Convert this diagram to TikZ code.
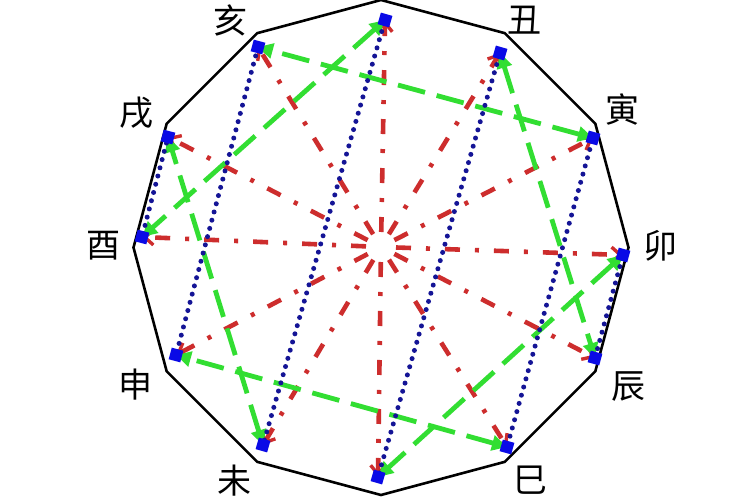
\documentclass[tikz,border=0pt]{standalone}
\usepackage{fontspec}
\newfontfamily\cjk{Noto Sans CJK SC}
\usetikzlibrary{arrows.meta}
\definecolor{redl}{RGB}{205,45,45}
\definecolor{greenl}{RGB}{50,222,50}
\definecolor{bluel}{RGB}{20,20,150}
\definecolor{markb}{RGB}{10,10,230}
\begin{document}
\begin{tikzpicture}[x=1pt,y=-1pt,
  poly/.style={black, line width=2.6pt, line join=miter},
  redline/.style={redl, line width=4.6pt,
    dash pattern=on 15pt off 15pt on 4pt off 15pt, dash phase=34pt,
    -{Straight Barb[length=9pt,width=15pt,line width=3.4pt]}},
  greenline/.style={greenl, line width=4.8pt, dash pattern=on 28pt off 12pt,
    {Triangle[length=15pt,width=15pt]}-{Triangle[length=15pt,width=15pt]}},
  blueline/.style={bluel, line width=5pt, line cap=round, dash pattern=on 0pt off 8.5pt,
    {Square[length=12pt,width=12pt,color=markb]}-{Square[length=12pt,width=12pt,color=markb]},
    shorten <=-6pt, shorten >=-6pt},
  branch/.style={font=\cjk\fontsize{34}{34}\selectfont, inner sep=0pt}
]
\useasboundingbox (0,0) rectangle (750,500);
\clip (0,0) rectangle (750,500);
\fill[white] (0,0) rectangle (750,500);

% dodecagon
\draw[poly] (381,0) \foreach \a in {120,150,...,420} { -- ({381+247.5*cos(\a)},{247.5-247.5*sin(\a)}) } -- cycle;

% points of the twelve branches
\coordinate (o) at (381,247);
\coordinate (zi) at (385,20);
\coordinate (chou) at (500,53);
\coordinate (yin) at (593,138);
\coordinate (mao) at (623,255);
\coordinate (chen) at (595,358);
\coordinate (si) at (507,447);
\coordinate (wu) at (378,477);
\coordinate (wei) at (263,445);
\coordinate (shen) at (176,355);
\coordinate (you) at (142,237);
\coordinate (xu) at (168,137);
\coordinate (hai) at (258,47);

% labels
\node[branch] (lhai) at (230,20) {亥};
\node[branch] (lchou) at (524,20) {丑};
\node[branch] (lxu) at (136,113) {戌};
\node[branch] (lyin) at (622,110) {寅};
\node[branch] (lyou) at (103,246) {酉};
\node[branch] (lmao) at (660,246) {卯};
\node[branch] (lshen) at (135,385) {申};
\node[branch] (lchen) at (628,387) {辰};
\node[branch] (lwei) at (234,481) {未};
\node[branch] (lsi) at (530,480) {巳};

% red: centre to every branch
\foreach \p in {zi,chou,yin,mao,chen,si,wu,wei,shen,you,xu,hai}
  \draw[redline] (o) -- (\p);

% green: six pairs
\draw[greenline] (zi) -- (you);
\draw[greenline] (chou) -- (chen);
\draw[greenline] (yin) -- (hai);
\draw[greenline] (mao) -- (wu);
\draw[greenline] (si) -- (shen);
\draw[greenline] (wei) -- (xu);

% blue: six pairs
\draw[blueline] (zi) -- (wei);
\draw[blueline] (chou) -- (wu);
\draw[blueline] (yin) -- (si);
\draw[blueline] (mao) -- (chen);
\draw[blueline] (shen) -- (hai);
\draw[blueline] (you) -- (xu);
\end{tikzpicture}
\end{document}
